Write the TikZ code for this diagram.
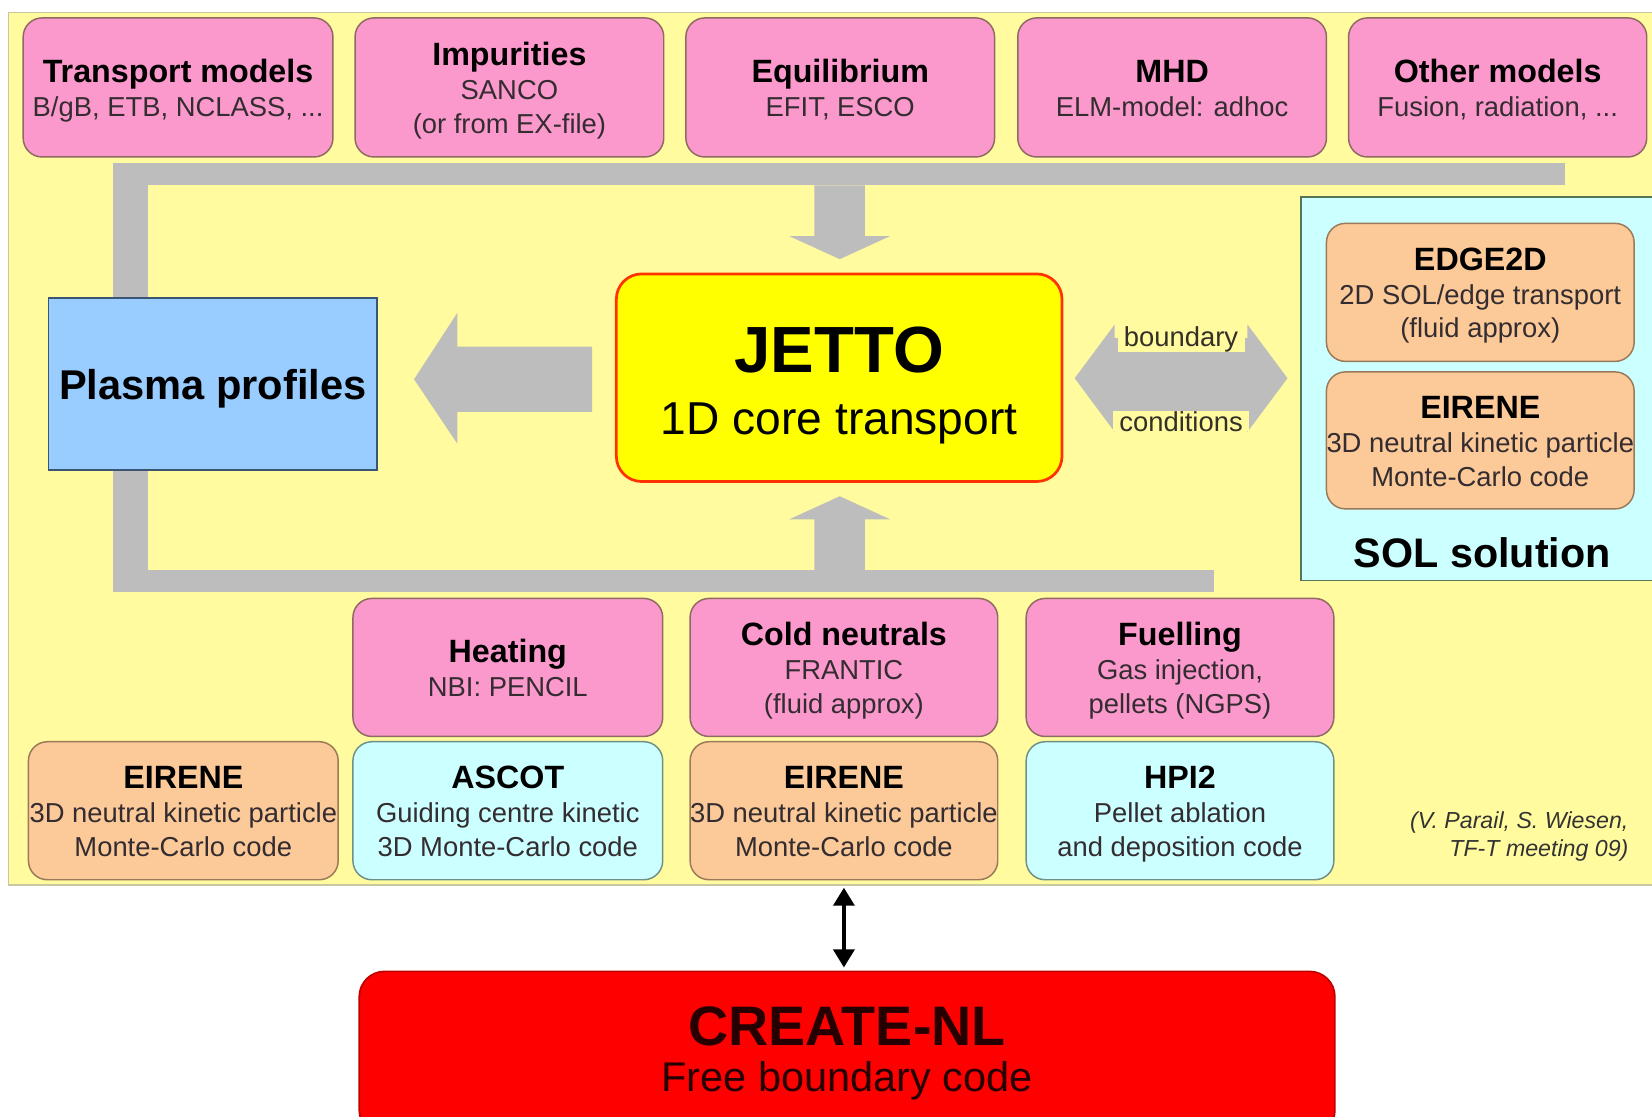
\documentclass[tikz,border=0pt]{standalone}
\usepackage{fontspec}
\setmainfont{Liberation Sans}
\usetikzlibrary{arrows.meta}
\definecolor{bgyel}{HTML}{FFFB9E}
\definecolor{panelline}{HTML}{C9C7A0}
\definecolor{pinkb}{HTML}{FC99CC}
\definecolor{pinkline}{HTML}{8E6A62}
\definecolor{peachb}{HTML}{FCC998}
\definecolor{peachline}{HTML}{9A7A58}
\definecolor{cyanb}{HTML}{CCFFFF}
\definecolor{cyanline}{HTML}{6F9088}
\definecolor{solline}{HTML}{587458}
\definecolor{greyA}{HTML}{BDBDBD}
\definecolor{plasmab}{HTML}{99CCFF}
\definecolor{plasmaline}{HTML}{3A5674}
\definecolor{jettoline}{HTML}{FF3300}
\definecolor{jettob}{HTML}{FFFF00}
\definecolor{createb}{HTML}{FF0000}
\definecolor{createline}{HTML}{C00000}
\definecolor{bodytext}{HTML}{332C30}
\newcommand\mybox[7]{%
  \node[#6, minimum width={(#4-#2)*0.5pt}, minimum height={(#5-#3)*0.5pt}]
    (#1) at ({(#2+#4)/2},{(#3+#5)/2}) {#7};}
\newcommand\ttl[1]{{\fontsize{15.3}{16}\selectfont\bfseries\color{black}\rule{0pt}{14.3pt}#1}}
\newcommand\dpt{\rule[-3pt]{0pt}{3pt}}
\begin{document}
\begin{tikzpicture}[x=0.5pt,y=-0.5pt,
  basebox/.style={rounded corners=9pt, inner sep=0pt, align=center,
    font=\fontsize{13}{16}\selectfont, text=bodytext, line width=0.7pt},
  pinkbox/.style={basebox, fill=pinkb, draw=pinkline},
  peachbox/.style={basebox, fill=peachb, draw=peachline},
  cyanbox/.style={basebox, fill=cyanb, draw=cyanline},
  panelstyle/.style={inner sep=0pt, fill=bgyel, draw=panelline, line width=0.6pt},
  solstyle/.style={inner sep=0pt, fill=cyanb, draw=solline, line width=0.8pt},
  jettostyle/.style={inner sep=0pt, align=center, rounded corners=12pt, fill=jettob,
    draw=jettoline, line width=1.3pt, font=\fontsize{21.9}{29.7}\selectfont},
  plasmastyle/.style={inner sep=0pt, fill=plasmab, draw=plasmaline, line width=0.8pt,
    text depth=0pt, font=\fontsize{19.75}{22}\selectfont\bfseries},
  createstyle/.style={inner sep=0pt, align=center, rounded corners=12pt, fill=createb,
    draw=createline, line width=0.8pt, text={black!85!red},
    font=\fontsize{19.7}{21.6}\selectfont},
  fat/.style={fill=greyA, draw=none},
  bclabel/.style={fill=bgyel, inner xsep=3pt, inner ysep=0pt,
    font=\fontsize{13}{15}\selectfont, text=black!85!olive},
  link/.style={line width=1.5pt, {Triangle[width=10pt,length=8.5pt]}-{Triangle[width=10pt,length=8.5pt]}}
]
\useasboundingbox (0,0) rectangle (1568,1060);
\clip (0,0) rectangle (1568,1060);
\fill[white] (0,0) rectangle (1568,1060);

% main panel
\mybox{panel}{8}{12}{1600}{840}{panelstyle}{}

% SOL panel
\mybox{sol}{1235}{187}{1600}{551}{solstyle}{}

% grey frame and fat arrows
\fill[fat] (107,155) rectangle (1485,176);
\fill[fat] (107,155) rectangle (140,562);
\fill[fat] (107,541) rectangle (1152,562);
\fill[fat] (773,176) -- (821,176) -- (821,224) -- (845,224) -- (797,246)
   -- (749,224) -- (773,224) -- cycle;
\fill[fat] (773,541) -- (773,493) -- (749,493) -- (797,471) -- (845,493)
   -- (821,493) -- (821,541) -- cycle;
\fill[fat] (562,329) -- (434,329) -- (434,297) -- (393,360) -- (434,421)
   -- (434,391) -- (562,391) -- cycle;
\fill[fat] (1020,359) -- (1058,308) -- (1058,321) -- (1184,321) -- (1184,308)
   -- (1222,359) -- (1184,410) -- (1184,397) -- (1058,397) -- (1058,410) -- cycle;
\node[bclabel] (bnd) at (1121,322) {boundary};
\node[bclabel] (cnd) at (1121,400) {conditions};

% top row
\mybox{tm}{22}{17}{316}{149}{pinkbox}{\ttl{Transport models}\\B/gB, ETB, NCLASS, ...\dpt}
\mybox{imp}{337}{17}{630}{149}{pinkbox}{\ttl{Impurities}\\SANCO\\(or from EX-file)\dpt}
\mybox{eq}{651}{17}{944}{149}{pinkbox}{\ttl{Equilibrium}\\EFIT, ESCO\dpt}
\mybox{mhd}{966}{17}{1259}{149}{pinkbox}{\ttl{MHD}\\ELM-model: adhoc\dpt}
\mybox{oth}{1280}{17}{1563}{149}{pinkbox}{\ttl{Other models}\\Fusion, radiation, ...\dpt}

% centre
\mybox{jetto}{585}{260}{1008}{457}{jettostyle}{{\fontsize{31}{31}\selectfont\bfseries\rule{0pt}{29pt}JETTO}\\1D core transport}
\mybox{plasma}{46}{283}{358}{446}{plasmastyle}{Plasma profiles}

% SOL boxes
\mybox{edge}{1259}{212}{1551}{343}{peachbox}{\ttl{EDGE2D}\\2D SOL/edge transport\\(fluid approx)\dpt}
\mybox{eirS}{1259}{353}{1551}{483}{peachbox}{\ttl{EIRENE}\\3D neutral kinetic particle\\Monte-Carlo code\dpt}
\node[font=\fontsize{19.6}{22}\selectfont\bfseries] (soltxt) at (1407,525) {SOL solution};

% bottom rows
\mybox{heat}{335}{568}{629}{699}{pinkbox}{\ttl{Heating}\\NBI: PENCIL\dpt}
\mybox{cold}{655}{568}{947}{699}{pinkbox}{\ttl{Cold neutrals}\\FRANTIC\\(fluid approx)\dpt}
\mybox{fuel}{974}{568}{1266}{699}{pinkbox}{\ttl{Fuelling}\\Gas injection,\\pellets (NGPS)\dpt}
\mybox{eirA}{27}{704}{321}{835}{peachbox}{\ttl{EIRENE}\\3D neutral kinetic particle\\Monte-Carlo code\dpt}
\mybox{ascot}{335}{704}{629}{835}{cyanbox}{\ttl{ASCOT}\\Guiding centre kinetic\\3D Monte-Carlo code\dpt}
\mybox{eirB}{655}{704}{947}{835}{peachbox}{\ttl{EIRENE}\\3D neutral kinetic particle\\Monte-Carlo code\dpt}
\mybox{hpi}{974}{704}{1266}{835}{cyanbox}{\ttl{HPI2}\\Pellet ablation\\and deposition code\dpt}

\node[anchor=east, align=right, inner sep=0pt, text=black!80,
  font=\fontsize{11}{13}\selectfont\itshape] (cite) at (1546,794)
  {(V. Parail, S. Wiesen,\\TF-T meeting 09)};

% CREATE-NL
\mybox{create}{341}{922}{1267}{1078}{createstyle}{{\fontsize{26.4}{26}\selectfont\bfseries CREATE-NL}\\Free boundary code}

\draw[link] ([yshift=-1pt]panel.south -| eirB.south) -- ([yshift=1.5pt]create.north -| eirB.south);
\end{tikzpicture}
\end{document}
